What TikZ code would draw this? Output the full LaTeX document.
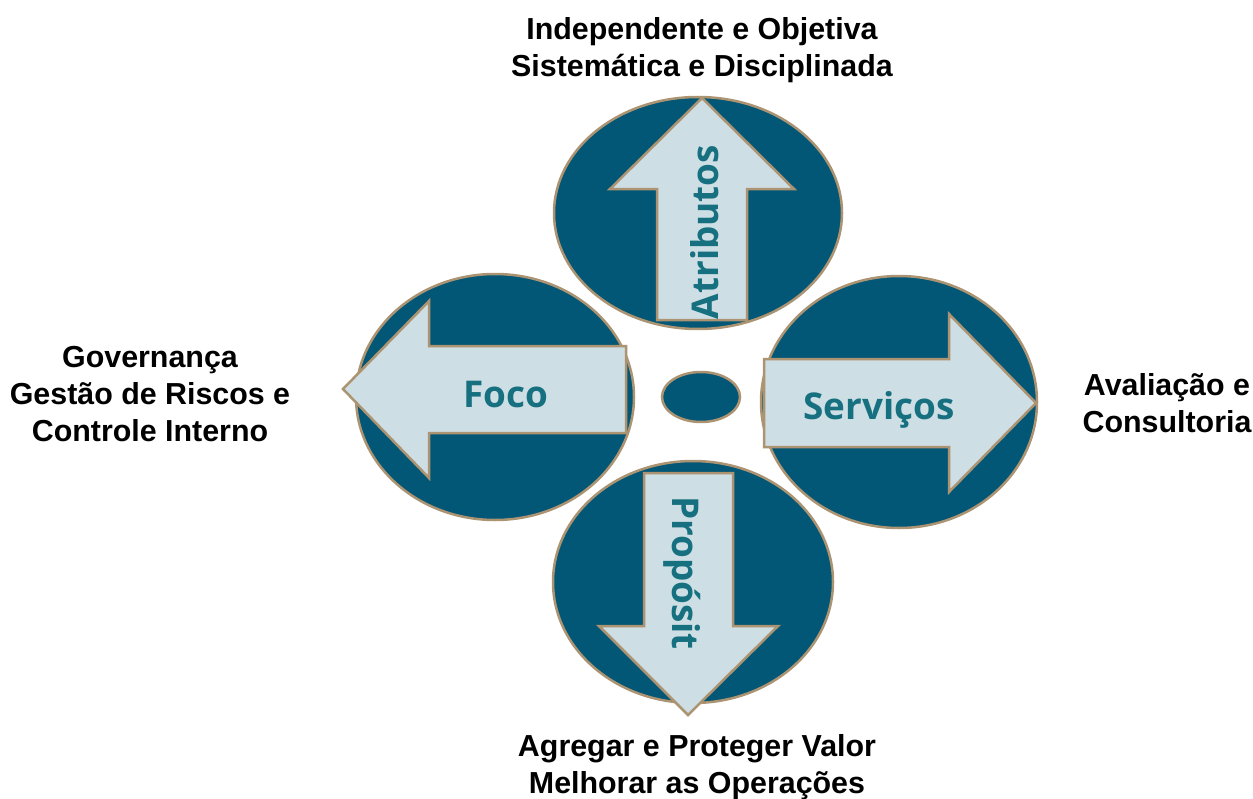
\documentclass[tikz,border=0pt]{standalone}
\usepackage{fontspec}
\setmainfont{Liberation Sans}
\newfontfamily\arrowfont{Open Sans}
\definecolor{ellfill}{RGB}{2,87,118}
\definecolor{ellborder}{RGB}{172,148,114}
\definecolor{arrfill}{RGB}{205,222,228}
\definecolor{arrtext}{RGB}{22,112,128}
\tikzset{
  disc/.style={fill=ellfill, draw=ellborder, line width=2.5bp},
  bigarrow/.style={fill=arrfill, draw=ellborder, line width=2.5bp, line join=miter},
  arrlabel/.style={text=arrtext, font=\arrowfont\bfseries\fontsize{37}{42}\selectfont, inner sep=0pt},
  outlabel/.style={text=black, align=center, font=\bfseries\fontsize{30.5}{37}\selectfont, inner sep=0pt}
}
\begin{document}
\begin{tikzpicture}[x=1bp,y=-1bp]
\useasboundingbox (0,0) rectangle (1253,799);
% discs
\draw[disc] (698,213) ellipse [x radius=144, y radius=116];
\draw[disc] (495,397) ellipse [x radius=139, y radius=123];
\draw[disc] (899,402) ellipse [x radius=138, y radius=126];
\draw[disc] (693,582) ellipse [x radius=140, y radius=121];
\draw[disc] (701,397) ellipse [x radius=39, y radius=25];
% arrows
\draw[bigarrow] (657,320) -- (657,189) -- (610,189) -- (702,98) -- (794,189) -- (747,189) -- (747,320) -- cycle;
\draw[bigarrow] (626,346) -- (429,346) -- (429,301) -- (343,389) -- (429,478) -- (429,433) -- (626,433) -- cycle;
\draw[bigarrow] (764,359) -- (949,359) -- (949,314) -- (1036,403) -- (949,492) -- (949,447) -- (764,447) -- cycle;
\draw[bigarrow] (644,473) -- (733,473) -- (733,626) -- (778,626) -- (688,715) -- (599,626) -- (644,626) -- cycle;
% arrow labels
\node[arrlabel, rotate=90] (atr) at (705,232) {Atributos};
\node[arrlabel] (foco) at (506,395) {Foco};
\node[arrlabel] (serv) at (879,410) {Serviços};
\node[arrlabel, rotate=-90] (prop) at (682,573) {Propósit};
% outer labels
\node[outlabel] (top) at (702,50) {Independente e Objetiva\\Sistemática e Disciplinada};
\node[outlabel] (left) at (150,394) {Governança\\Gestão de Riscos e\\Controle Interno};
\node[outlabel] (right) at (1167,403) {Avaliação e\\Consultoria};
\node[outlabel] (bottom) at (697,767) {Agregar e Proteger Valor\\Melhorar as Operações};
\end{tikzpicture}
\end{document}
